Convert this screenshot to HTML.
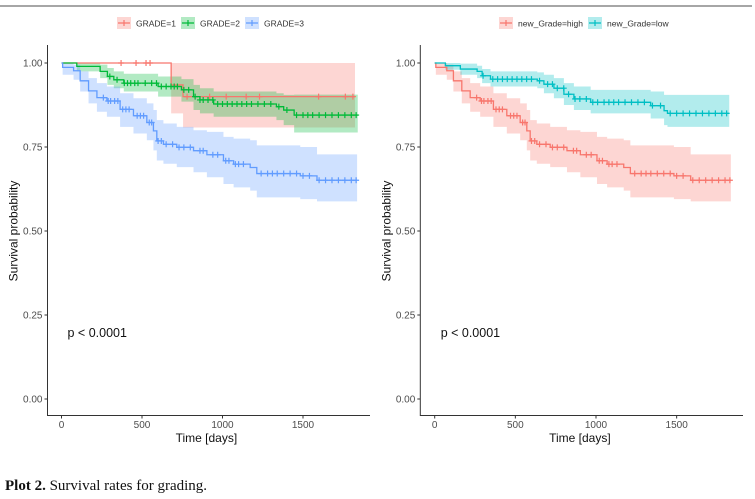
<!DOCTYPE html>
<html><head><meta charset="utf-8"><style>
body{margin:0;background:#fff;width:755px;height:499px;overflow:hidden}
svg{display:block;font-family:"Liberation Sans",sans-serif}
</style></head><body>
<svg id="root" width="755" height="499">
<line x1="0" y1="6" x2="752" y2="6" stroke="#888" stroke-width="1.5"/>
<text x="5" y="490" font-family="Liberation Serif,serif" font-size="15" fill="#111"><tspan font-weight="bold">Plot 2.</tspan> Survival rates for grading.</text>
</svg>
<script>
// ---- data (days, survival) ----
const g1Times=[0,681,755,1823];
const g1Surv=[1,0.935,0.90,0.90];
const g1Upper=[1,1,1,1];
const g1Lower=[1,0.85,0.808,0.808];
const g1Censor=[370,463,525,550,780,920,1023,1147,1230,1597,1763,1810];

const g2Times=[0,95,240,285,325,387,600,745,820,860,945,1335,1380,1445,1840];
const g2Surv=[1,0.99,0.975,0.96,0.95,0.94,0.93,0.92,0.90,0.89,0.878,0.87,0.86,0.845,0.845];
const g2Upper=[1,1,0.995,0.985,0.975,0.968,0.96,0.952,0.935,0.925,0.915,0.91,0.905,0.906,0.906];
const g2Lower=[1,0.975,0.955,0.935,0.925,0.915,0.90,0.885,0.86,0.85,0.84,0.83,0.815,0.793,0.793];
const g2Censor=[300,345,390,410,430,455,475,520,560,590,620,650,680,700,720,760,790,830,860,880,910,940,970,1000,1030,1060,1090,1120,1150,1180,1220,1260,1300,1350,1400,1460,1500,1530,1560,1600,1640,1680,1720,1760,1800,1830];

const g3Times=[0,7,75,116,168,220,282,364,447,530,571,592,633,716,820,903,1006,1069,1172,1213,1483,1587,1836];
const g3Surv=[1,0.987,0.977,0.947,0.917,0.897,0.887,0.862,0.843,0.823,0.798,0.768,0.758,0.749,0.739,0.727,0.709,0.699,0.689,0.671,0.664,0.651,0.651];
const g3Upper=[1,1,0.995,0.975,0.955,0.94,0.93,0.91,0.895,0.88,0.86,0.83,0.82,0.81,0.80,0.795,0.78,0.775,0.77,0.755,0.75,0.728,0.728];
const g3Lower=[1,0.965,0.95,0.915,0.88,0.855,0.84,0.81,0.79,0.77,0.74,0.71,0.70,0.69,0.675,0.66,0.64,0.63,0.62,0.60,0.595,0.588,0.588];
const g3Censor=[260,290,305,330,350,380,400,420,470,490,510,545,560,600,620,650,690,730,760,800,860,880,940,970,1020,1040,1080,1100,1130,1240,1280,1310,1340,1380,1420,1460,1500,1540,1600,1640,1680,1720,1760,1800,1830];

const lowTimes=[0,66,159,263,294,346,636,677,739,801,863,967,1339,1422,1443,1826];
const lowSurv=[1,0.992,0.982,0.975,0.962,0.952,0.947,0.937,0.925,0.907,0.893,0.883,0.873,0.858,0.85,0.85];
const lowUpper=[1,1,0.998,0.992,0.982,0.975,0.972,0.965,0.955,0.94,0.93,0.92,0.915,0.905,0.905,0.905];
const lowLower=[1,0.98,0.965,0.955,0.94,0.93,0.925,0.91,0.895,0.875,0.86,0.85,0.835,0.815,0.81,0.81];
const lowCensor=[300,360,390,420,450,480,510,540,570,600,650,700,730,760,800,830,870,900,940,980,1010,1050,1080,1110,1140,1180,1220,1260,1300,1350,1400,1460,1500,1540,1580,1620,1660,1700,1740,1780,1810];

const yTicks=[0,0.25,0.5,0.75,1];
const yTickLabels=["0.00","0.25","0.50","0.75","1.00"];
const xTicks=[0,500,1000,1500];
const xTickLabels=["0","500","1000","1500"];

const NS="http://www.w3.org/2000/svg";
const root=document.getElementById('root');
function mk(tag,attrs,parent){const e=document.createElementNS(NS,tag);for(const k in attrs)e.setAttribute(k,attrs[k]);(parent||root).appendChild(e);return e;}

function panel(P){
  const g=mk('g',{});
  
  
  const sx=d=>P.x0+d*P.kx;
  const Y=v=>399-v*336;
  P.series.forEach(s=>{
    let up='',lo=[];
    for(let i=0;i<s.t.length;i++){
      const x=sx(s.t[i]), xn=i<s.t.length-1?sx(s.t[i+1]):x;
      up+=`${x},${Y(s.u[i])} ${xn},${Y(s.u[i])} `;
      lo.unshift(`${xn},${Y(s.l[i])} ${x},${Y(s.l[i])}`);
    }
    const b=mk('polygon',{points:up+lo.join(' '),fill:s.c,'fill-opacity':0.3,stroke:'none'},g);
    
    
  });
  P.series.forEach(s=>{
    let d='';
    for(let i=0;i<s.t.length;i++){
      const x=sx(s.t[i]);
      d+=(i?`H${x}V${Y(s.s[i])}`:`M${x},${Y(s.s[i])}`);
    }
    const p=mk('path',{d:d,fill:'none',stroke:s.c,'stroke-width':1.3},g);
    
    
    s.cen.forEach(t=>{
      let v=s.s[0];for(let i=0;i<s.t.length;i++)if(s.t[i]<=t)v=s.s[i];
      const x=sx(t),y=Y(v);
      const m=mk('path',{d:`M${x-3},${y}H${x+3}M${x},${y-3}V${y+3}`,stroke:s.c,'stroke-width':1.2},g);
      
      
    });
  });
  const ax=mk('path',{d:`M${P.ax},45V415.5H${P.xend}`,fill:'none',stroke:'#333','stroke-width':1},g);
  
  
  yTicks.forEach((v,i)=>{
    mk('line',{x1:P.ax-3,x2:P.ax,y1:Y(v),y2:Y(v),stroke:'#333'},g);
    const t=mk('text',{x:P.ax-5,y:Y(v)+3.5,'text-anchor':'end','font-size':10,fill:'#4d4d4d'},g);
    t.textContent=yTickLabels[i];
    
    
  });
  xTicks.forEach((v,i)=>{
    mk('line',{x1:sx(v),x2:sx(v),y1:415.5,y2:418.5,stroke:'#333'},g);
    const t=mk('text',{x:sx(v),y:428,'text-anchor':'middle','font-size':10,fill:'#4d4d4d'},g);
    t.textContent=xTickLabels[i];
    
    
  });
  const xl=mk('text',{x:sx(900),y:442,'text-anchor':'middle','font-size':12,fill:'#111'},g);
  xl.textContent='Time [days]';
  
  
  const yl=mk('text',{x:0,y:0,'text-anchor':'middle','font-size':12,fill:'#111',transform:`translate(${P.ax-30},231) rotate(-90)`},g);
  yl.textContent='Survival probability';
  
  
  const pv=mk('text',{x:sx(0)+6,y:337,'font-size':12.5,fill:'#111'},g);
  pv.textContent='p < 0.0001';
  
  
  P.series.forEach((s,i)=>{
    const lx=P.legX[i];
    const lg=mk('g',{},g);
    
    
    mk('rect',{x:lx,y:17,width:14,height:12,fill:s.c,'fill-opacity':0.3},lg);
    mk('path',{d:`M${lx+1},23H${lx+13}M${lx+7},20V26`,stroke:s.c,'stroke-width':1.2},lg);
    const t=mk('text',{x:lx+19,y:26.5,'font-size':8.5,fill:'#333'},lg);
    t.textContent=s.label;
  });
}
panel({name:'grade-panel',x0:61.5,kx:0.161,ax:47.5,xend:370,legX:[117,181,245],series:[
 {key:'grade-1',label:'GRADE=1',c:'#F8766D',t:g1Times,s:g1Surv,u:g1Upper,l:g1Lower,cen:g1Censor},
 {key:'grade-2',label:'GRADE=2',c:'#00BA38',t:g2Times,s:g2Surv,u:g2Upper,l:g2Lower,cen:g2Censor},
 {key:'grade-3',label:'GRADE=3',c:'#619CFF',t:g3Times,s:g3Surv,u:g3Upper,l:g3Lower,cen:g3Censor}]});
panel({name:'new-grade-panel',x0:434.7,kx:0.1613,ax:420.3,xend:743,legX:[499,588],series:[
 {key:'new-grade-high',label:'new_Grade=high',c:'#F8766D',t:g3Times,s:g3Surv,u:g3Upper,l:g3Lower,cen:g3Censor},
 {key:'new-grade-low',label:'new_Grade=low',c:'#00BFC4',t:lowTimes,s:lowSurv,u:lowUpper,l:lowLower,cen:lowCensor}]});
</script>
</body></html>
